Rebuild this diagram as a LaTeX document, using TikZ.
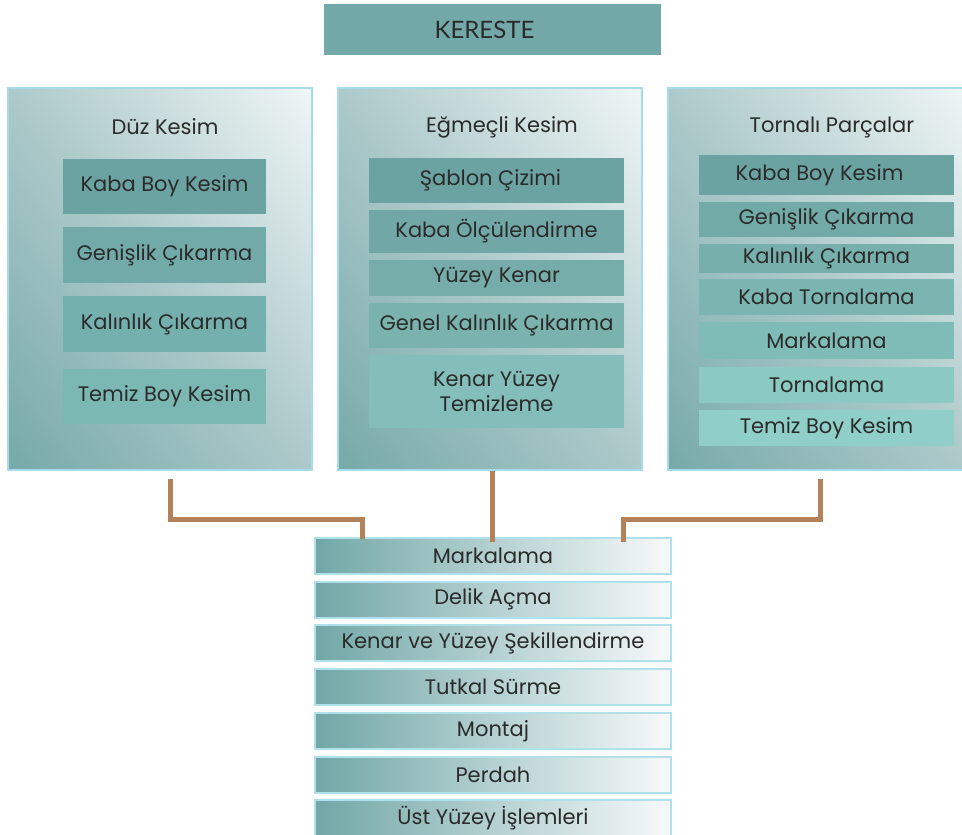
\documentclass[tikz,border=0pt]{standalone}
\usepackage{fontspec}
\setmainfont{Poppins}
\newfontfamily\titlefont{Lato}
\definecolor{txt}{HTML}{2B2B2B}
\definecolor{panelborder}{HTML}{A6DCEA}
\definecolor{paneldark}{HTML}{76A9A9}
\definecolor{panelmid}{HTML}{ADC9CA}
\definecolor{panellight}{HTML}{F0F6F6}
\definecolor{conncol}{HTML}{B4825A}
\definecolor{kerfill}{HTML}{72A9A8}
\definecolor{botdark}{HTML}{72A7A7}
\definecolor{botlight}{HTML}{F7F9FA}
\definecolor{botborder}{HTML}{B0E0EA}
\newcommand\panelbg[4]{%
  \begin{scope}
    \clip (#1-#3/2,#2-#4/2) rectangle (#1+#3/2,#2+#4/2);
    \shade[transform canvas={rotate around={-51.5:(#1,#2)}},
      bottom color=paneldark, top color=panellight, middle color=panelmid]
      (#1-500,#2-240) rectangle (#1+500,#2+240);
  \end{scope}}
\tikzset{
  panel/.style={draw=panelborder, line width=2.5pt, inner sep=0pt},
  ptitle/.style={text=txt, font=\fontsize{21}{25}\selectfont, inner sep=0pt},
  ibox/.style={text=txt, font=\fontsize{21}{25}\selectfont, inner sep=0pt, align=center},
  bbox/.style={draw=botborder, line width=2pt, left color=botdark, right color=botlight, text=txt, font=\fontsize{21}{25}\selectfont, inner sep=0pt, minimum width=356pt, minimum height=36pt},
  conn/.style={draw=conncol, line width=5pt},
}
\begin{document}
\begin{tikzpicture}[x=1pt,y=-1pt]
\useasboundingbox (0,0) rectangle (962,835);
% title
\node[fill=kerfill, minimum width=337pt, minimum height=51pt, inner sep=0pt, text=txt, font=\titlefont\fontsize{24}{28}\selectfont] (ker) at (492.5,29.5) {KERESTE\hspace*{16pt}};
% panels
\panelbg{160}{279}{304}{382}
\panelbg{490}{279}{304}{382}
\panelbg{816}{279}{296}{382}
\node[panel, minimum width=304pt, minimum height=382pt] (lp) at (160,279) {};
\node[panel, minimum width=304pt, minimum height=382pt] (mp) at (490,279) {};
\node[panel, minimum width=296pt, minimum height=382pt] (rp) at (816,279) {};
\node[ptitle] (lt) at (165,127) {Düz Kesim};
\node[ptitle] (mt) at (502,127) {Eğmeçli Kesim};
\node[ptitle] (rt) at (832,127) {Tornalı Parçalar};
% left boxes
\node[ibox, fill={rgb,255:red,107;green,163;blue,163}, minimum width=203pt, minimum height=55pt] (l1) at (164.5,186.5) {Kaba Boy Kesim};
\node[ibox, fill={rgb,255:red,113;green,170;blue,168}, minimum width=203pt, minimum height=56pt] (l2) at (164.5,255) {Genişlik Çıkarma};
\node[ibox, fill={rgb,255:red,116;green,176;blue,173}, minimum width=203pt, minimum height=56pt] (l3) at (164.5,324) {Kalınlık Çıkarma};
\node[ibox, fill={rgb,255:red,123;green,184;blue,179}, minimum width=203pt, minimum height=55pt] (l4) at (164.5,396.5) {Temiz Boy Kesim};
% middle boxes
\node[ibox, fill={rgb,255:red,107;green,162;blue,162}, minimum width=255pt, minimum height=45pt] (m1b) at (496.5,180.5) {Şablon Çizimi\hspace*{12pt}};
\node[ibox, fill={rgb,255:red,113;green,168;blue,167}, minimum width=255pt, minimum height=43pt] (m2b) at (496.5,231.5) {Kaba Ölçülendirme};
\node[ibox, fill={rgb,255:red,118;green,173;blue,171}, minimum width=255pt, minimum height=36pt] (m3b) at (496.5,278) {Yüzey Kenar};
\node[ibox, fill={rgb,255:red,122;green,178;blue,174}, minimum width=255pt, minimum height=45pt] (m4b) at (496.5,325.5) {Genel Kalınlık Çıkarma};
\node[ibox, fill={rgb,255:red,131;green,190;blue,186}, minimum width=255pt, minimum height=73pt] (m5b) at (496.5,391.5) {Kenar Yüzey\\Temizleme};
% right boxes
\node[ibox, fill={rgb,255:red,107;green,163;blue,163}, minimum width=255pt, minimum height=40pt] (r1b) at (826.5,175) {Kaba Boy Kesim\hspace*{14pt}};
\node[ibox, fill={rgb,255:red,114;green,170;blue,168}, minimum width=255pt, minimum height=35pt] (r2b) at (826.5,219.5) {Genişlik Çıkarma};
\node[ibox, fill={rgb,255:red,118;green,175;blue,172}, minimum width=255pt, minimum height=29pt] (r3b) at (826.5,258.5) {Kalınlık Çıkarma};
\node[ibox, fill={rgb,255:red,123;green,181;blue,177}, minimum width=255pt, minimum height=36pt] (r4b) at (826.5,297) {Kaba Tornalama};
\node[ibox, fill={rgb,255:red,128;green,188;blue,183}, minimum width=255pt, minimum height=37pt] (r5b) at (826.5,340.5) {Markalama};
\node[ibox, fill={rgb,255:red,138;green,202;blue,195}, minimum width=255pt, minimum height=36pt] (r6b) at (826.5,385) {Tornalama};
\node[ibox, fill={rgb,255:red,143;green,207;blue,200}, minimum width=255pt, minimum height=36pt] (r7b) at (826.5,428) {Temiz Boy Kesim};
% bottom boxes
\node[bbox] (b1) at (493,556) {Markalama};
\node[bbox] (b2) at (493,599.7) {Delik Açma};
\node[bbox] (b3) at (493,643.4) {Kenar ve Yüzey Şekillendirme};
\node[bbox] (b4) at (493,687.1) {Tutkal Sürme};
\node[bbox] (b5) at (493,730.8) {Montaj};
\node[bbox] (b6) at (493,774.5) {Perdah};
\node[bbox] (b7) at (493,818.2) {Üst Yüzey İşlemleri};
% connectors
\coordinate (cl) at ([xshift=10pt,yshift=-8pt]lp.south);
\coordinate (cm) at ([xshift=2pt]mp.south);
\coordinate (cr) at ([xshift=4pt,yshift=-8pt]rp.south);
\draw[conn] (cl) -- ++(0,40) -| ([xshift=-131pt,yshift=-2pt]b1.north);
\draw[conn] (cm) -- ([yshift=-5pt]b1.north -| cm);
\draw[conn] (cr) -- ++(0,40) -| ([xshift=130pt,yshift=-5pt]b1.north);
\end{tikzpicture}
\end{document}
